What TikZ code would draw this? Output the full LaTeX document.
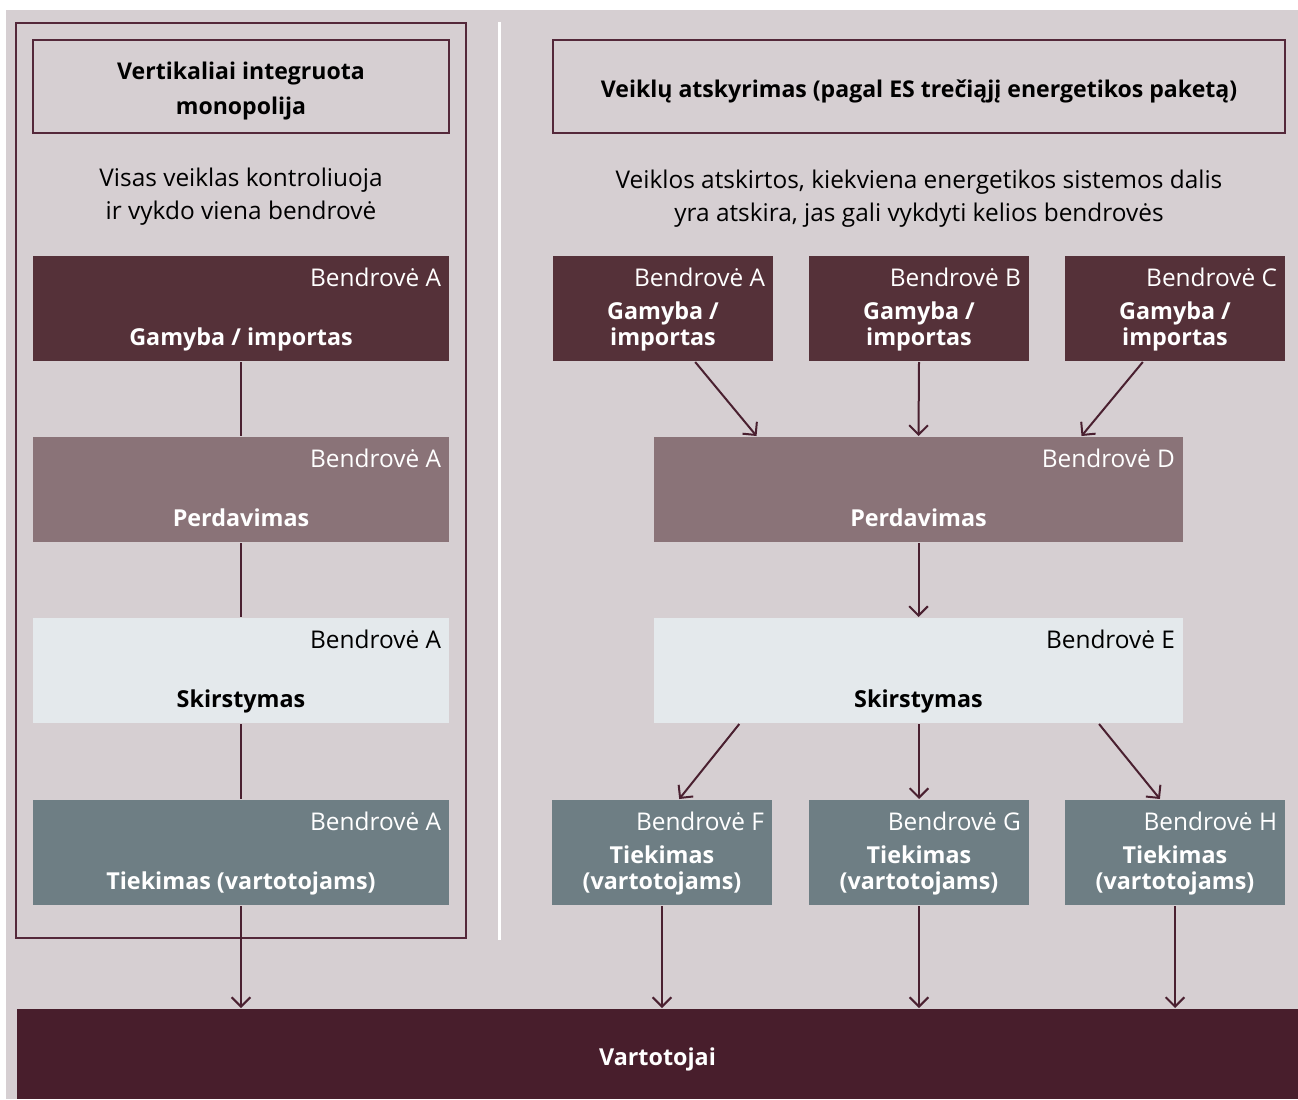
\documentclass[tikz,border=0pt]{standalone}
\usepackage{fontspec}
\setmainfont{Open Sans}
\usetikzlibrary{arrows.meta,calc}
\definecolor{bgcol}{HTML}{D6CFD2}
\definecolor{framecol}{HTML}{54283A}
\definecolor{gamcol}{HTML}{553139}
\definecolor{percol}{HTML}{8A7378}
\definecolor{skircol}{HTML}{E4E9EC}
\definecolor{tiekcol}{HTML}{6E7E84}
\definecolor{vartcol}{HTML}{481E2C}
\definecolor{arrcol}{HTML}{4A2030}
\newcommand\regfont{\fontsize{18.3}{24.75}\selectfont}
\newcommand\labfont{\fontsize{17.5}{19.5}\selectfont\bfseries}
\newcommand\headfont{\fontsize{17.3}{26.25}\selectfont\bfseries}

\begin{document}
\begin{tikzpicture}[x=0.75pt,y=-0.75pt,>={Straight Barb[length=7pt,width=14pt]},line width=1.5pt]
\tikzstyle{stage}=[rectangle,inner sep=0pt,minimum height=78.75pt]
\tikzstyle{wide}=[stage,minimum width=312pt]
\tikzstyle{narrow}=[stage,minimum width=165pt]
\tikzstyle{mid}=[stage,minimum width=396.75pt]
\tikzstyle{firm}=[anchor=base east,inner sep=0pt,font=\regfont]
\tikzstyle{activity}=[anchor=south,inner sep=0pt,text depth=0pt,align=center,font=\labfont]
\tikzstyle{heading}=[rectangle,draw=framecol,inner sep=0pt,minimum height=69.75pt]
\tikzstyle{headtext}=[inner sep=0pt,align=center,font=\headfont]
\tikzstyle{note}=[inner sep=0pt,align=center,font=\regfont]
\tikzstyle{line}=[draw=arrcol]
\tikzstyle{link}=[draw=arrcol,->]
\useasboundingbox (0,0) rectangle (1298,1099);
\fill[bgcol] (6,10) rectangle (1298,1099);
\draw[framecol] (16,23) rectangle (466,938);
\draw[white,line width=2.25pt] (499,22) -- (499,940);

\node[heading,minimum width=312pt] (ltitle) at (241,86.5) {};
\node[headtext] (ltitle-t) at ($(ltitle)+(0,5)$) {Vertikaliai integruota\\monopolija};
\node[note] (lnote) at (241,197) {Visas veiklas kontroliuoja\\ir vykdo viena bendrovė};
\node[heading,minimum width=549pt] (rtitle) at (919,86.5) {};
\node[headtext] (rtitle-t) at ($(rtitle)+(0,5)$) {Veiklų atskyrimas (pagal ES trečiąjį energetikos paketą)};
\node[note] (rnote) at (919,199) {Veiklos atskirtos, kiekviena energetikos sistemos dalis\\yra atskira, jas gali vykdyti kelios bendrovės};

\node[wide,fill=gamcol] (lG) at (241,308.5) {};
\node[firm,text=white] (lG-f) at ($(lG.north east)+(-8,31)$) {Bendrovė A};
\node[activity,text=white] (lG-t) at ($(lG.south)+(0,-16)$) {Gamyba / importas};
\node[wide,fill=percol] (lP) at (241,489.5) {};
\node[firm,text=white] (lP-f) at ($(lP.north east)+(-8,31)$) {Bendrovė A};
\node[activity,text=white] (lP-t) at ($(lP.south)+(0,-16)$) {Perdavimas};
\node[wide,fill=skircol] (lS) at (241,670.5) {};
\node[firm] (lS-f) at ($(lS.north east)+(-8,31)$) {Bendrovė A};
\node[activity] (lS-t) at ($(lS.south)+(0,-16)$) {Skirstymas};
\node[wide,fill=tiekcol] (lT) at (241,852.5) {};
\node[firm,text=white] (lT-f) at ($(lT.north east)+(-8,31)$) {Bendrovė A};
\node[activity,text=white] (lT-t) at ($(lT.south)+(0,-16)$) {Tiekimas (vartotojams)};

\node[narrow,fill=gamcol] (gA) at (663,308.5) {};
\node[firm,text=white] (gA-f) at ($(gA.north east)+(-8,31)$) {Bendrovė A};
\node[activity,text=white] (gA-t) at ($(gA.south)+(0,-16)$) {Gamyba /\\importas};
\node[narrow,fill=gamcol] (gB) at (919,308.5) {};
\node[firm,text=white] (gB-f) at ($(gB.north east)+(-8,31)$) {Bendrovė B};
\node[activity,text=white] (gB-t) at ($(gB.south)+(0,-16)$) {Gamyba /\\importas};
\node[narrow,fill=gamcol] (gC) at (1175,308.5) {};
\node[firm,text=white] (gC-f) at ($(gC.north east)+(-8,31)$) {Bendrovė C};
\node[activity,text=white] (gC-t) at ($(gC.south)+(0,-16)$) {Gamyba /\\importas};

\node[mid,fill=percol] (rP) at (918.5,489.5) {};
\node[firm,text=white] (rP-f) at ($(rP.north east)+(-8,31)$) {Bendrovė D};
\node[activity,text=white] (rP-t) at ($(rP.south)+(0,-16)$) {Perdavimas};
\node[mid,fill=skircol] (rS) at (918.5,670.5) {};
\node[firm] (rS-f) at ($(rS.north east)+(-8,31)$) {Bendrovė E};
\node[activity] (rS-t) at ($(rS.south)+(0,-16)$) {Skirstymas};

\node[narrow,fill=tiekcol] (tF) at (662,852.5) {};
\node[firm,text=white] (tF-f) at ($(tF.north east)+(-8,31)$) {Bendrovė F};
\node[activity,text=white] (tF-t) at ($(tF.south)+(0,-16)$) {Tiekimas\\(vartotojams)};
\node[narrow,fill=tiekcol] (tG) at (919,852.5) {};
\node[firm,text=white] (tG-f) at ($(tG.north east)+(-8,31)$) {Bendrovė G};
\node[activity,text=white] (tG-t) at ($(tG.south)+(0,-16)$) {Tiekimas\\(vartotojams)};
\node[narrow,fill=tiekcol] (tH) at (1175,852.5) {};
\node[firm,text=white] (tH-f) at ($(tH.north east)+(-8,31)$) {Bendrovė H};
\node[activity,text=white] (tH-t) at ($(tH.south)+(0,-16)$) {Tiekimas\\(vartotojams)};

\node[rectangle,fill=vartcol,inner sep=0pt,minimum width=960.75pt,minimum height=67.5pt,text height=17pt,text depth=0pt,text=white,font=\labfont] (vart) at (657.5,1054) {Vartotojai};

\path (lG) edge[line] (lP)
      (lP) edge[line] (lS)
      (lS) edge[line] (lT);
\path (lT.south) edge[link] (lT.south |- vart.north)
      ($(gA.south)!0.29!(gA.south east)$) edge[link] ($(rP.north west)!0.39!(rP.north)$)
      (gB.south) edge[link] (rP.north)
      ($(gC.south)!0.29!(gC.south west)$) edge[link] ($(rP.north east)!0.386!(rP.north)$)
      (rP.south) edge[link] (rS.north)
      ($(rS.south west)!0.325!(rS.south)$) edge[link] ($(tF.north)!0.155!(tF.north east)$)
      (rS.south -| tG.north) edge[link] (tG.north)
      ($(rS.south east)!0.32!(rS.south)$) edge[link] ($(tH.north)!0.136!(tH.north west)$)
      (tF.south) edge[link] (tF.south |- vart.north)
      (tG.south) edge[link] (tG.south |- vart.north)
      (tH.south) edge[link] (tH.south |- vart.north);
\end{tikzpicture}
\end{document}
